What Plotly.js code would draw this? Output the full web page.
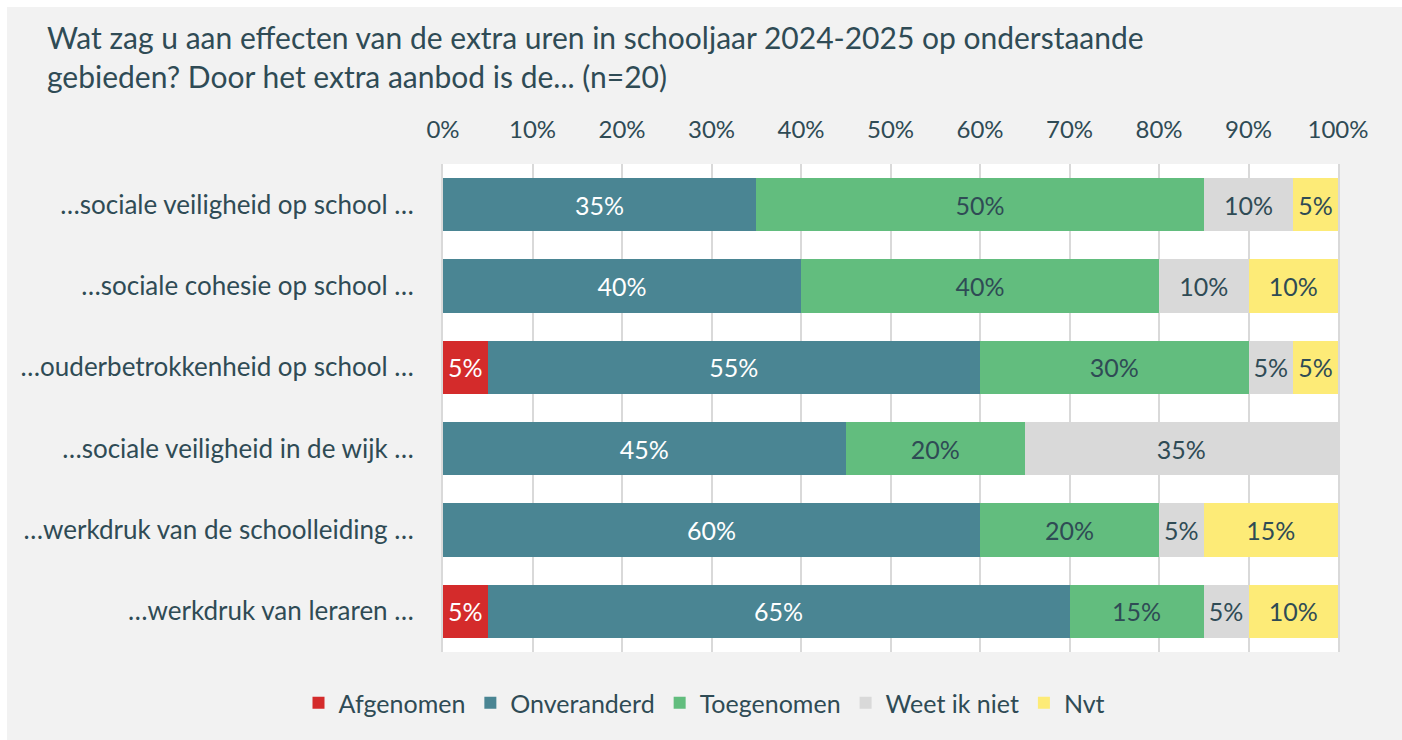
<!DOCTYPE html>
<html>
<head>
<meta charset="utf-8">
<script src="https://cdn.plot.ly/plotly-3.0.1.min.js"></script>
<style>
  html, body { margin: 0; padding: 0; background: #ffffff; width: 1402px; height: 740px; overflow: hidden; }
  #chart { position: absolute; left: 7px; top: 7px; width: 1395px; height: 733px; }
</style>
</head>
<body>
<div id="chart"></div>
<script>
const categories = [
  "…sociale veiligheid op school …",
  "…sociale cohesie op school …",
  "…ouderbetrokkenheid op school …",
  "…sociale veiligheid in de wijk …",
  "…werkdruk van de schoolleiding …",
  "…werkdruk van leraren …"
];
const seriesNames = ["Afgenomen", "Onveranderd", "Toegenomen", "Weet ik niet", "Nvt"];
const afgenomen   = [null, null, 5, null, null, 5];
const onveranderd = [35, 40, 55, 45, 60, 65];
const toegenomen  = [50, 40, 30, 20, 20, 15];
const weetIkNiet  = [10, 10, 5, 35, 5, 5];
const nvt         = [5, 10, 5, null, 15, 10];
const xTickVals   = [0, 10, 20, 30, 40, 50, 60, 70, 80, 90, 100];

const seriesValues = [afgenomen, onveranderd, toegenomen, weetIkNiet, nvt];
const colors = ["#d42b2b", "#4a8593", "#62bd7e", "#d9d9d9", "#fdeb77"];
const textColors = ["#ffffff", "#ffffff", "#2f4b55", "#2f4b55", "#2f4b55"];
const FONT = "Lato, 'Open Sans', sans-serif";
const DARK = "#2f4b55";

const traces = seriesNames.map((name, i) => ({
  type: "bar",
  orientation: "h",
  name: name,
  y: categories,
  x: seriesValues[i],
  marker: { color: colors[i], line: { width: 0 } },
  text: seriesValues[i].map(v => v == null ? "" : v + "%"),
  textposition: "inside",
  insidetextanchor: "middle",
  textfont: { family: FONT, size: 25, color: textColors[i] },
  constraintext: "none",
  hoverinfo: "skip"
}));

const layout = {
  width: 1395,
  height: 733,
  barmode: "stack",
  bargap: 0.345,
  paper_bgcolor: "#f2f2f2",
  plot_bgcolor: "#ffffff",
  font: { family: FONT, color: DARK, size: 24 },
  margin: { l: 436, r: 64, t: 157, b: 88 },
  title: {
    text: "Wat zag u aan effecten van de extra uren in schooljaar 2024-2025 op onderstaande<br>gebieden? Door het extra aanbod is de... (n=20)",
    font: { family: FONT, size: 30, color: DARK },
    x: 40 / 1395,
    xref: "container",
    xanchor: "left",
    y: 1 - 42 / 733,
    yref: "container",
    yanchor: "top"
  },
  xaxis: {
    side: "top",
    range: [0, 100],
    tickvals: xTickVals,
    ticktext: xTickVals.map(v => v + "%"),
    showgrid: true,
    gridcolor: "#d9d9d9",
    gridwidth: 2,
    zeroline: false,
    showline: false,
    ticks: "outside",
    ticklen: 15,
    tickcolor: "rgba(0,0,0,0)",
    tickfont: { family: FONT, size: 24, color: DARK },
    fixedrange: true
  },
  yaxis: {
    autorange: "reversed",
    showline: true,
    linecolor: "#d9d9d9",
    linewidth: 2,
    mirror: true,
    showgrid: false,
    ticks: "outside",
    ticklen: 22,
    tickcolor: "rgba(0,0,0,0)",
    tickfont: { family: FONT, size: 26, color: DARK },
    fixedrange: true
  },
  legend: {
    orientation: "h",
    x: 0.5,
    xref: "container",
    xanchor: "center",
    y: 1 - 696 / 733,
    yref: "container",
    yanchor: "middle",
    font: { family: FONT, size: 25, color: DARK },
    traceorder: "normal",
    itemwidth: 30,
    bgcolor: "rgba(0,0,0,0)"
  },
  showlegend: true
};

Plotly.newPlot("chart", traces, layout, { displayModeBar: false, staticPlot: true });
</script>
</body>
</html>
